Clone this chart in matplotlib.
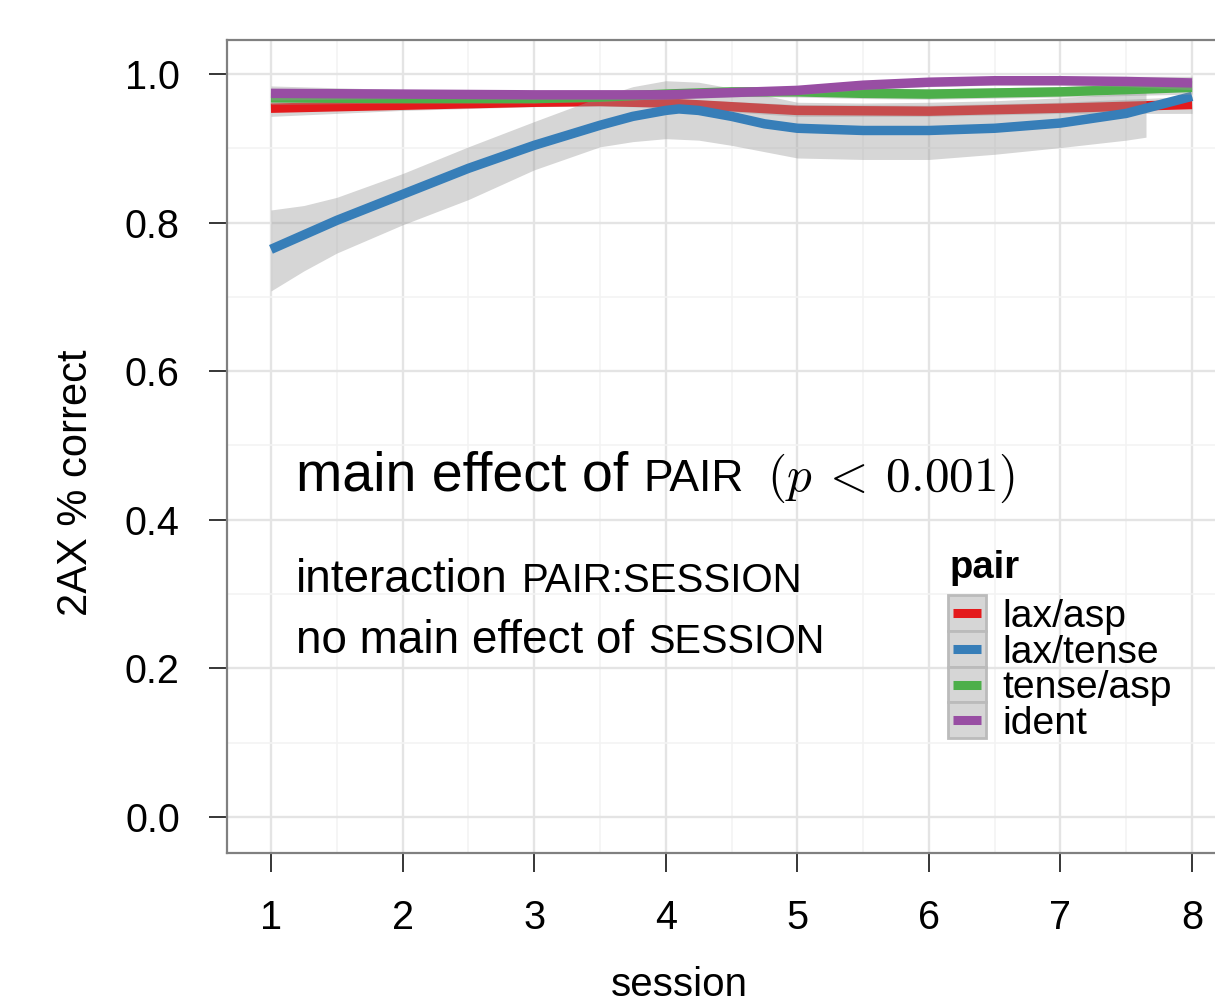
import numpy as np
import matplotlib
matplotlib.use("Agg")
import matplotlib.pyplot as plt
from matplotlib.patches import Rectangle
from matplotlib.lines import Line2D

plt.rcParams["font.family"] = ["Liberation Sans", "DejaVu Sans"]
plt.rcParams["mathtext.fontset"] = "cm"

# === data ===
pairs = ["lax/asp", "lax/tense", "tense/asp", "ident"]
colors = ["#E41A1C", "#377EB8", "#4DAF4A", "#984EA3"]

red_x = [1, 2, 3, 3.5, 4, 4.5, 5, 6, 7, 8]
red_y = [0.954, 0.958, 0.962, 0.963, 0.961, 0.956, 0.951, 0.950, 0.954, 0.959]
red_lo = [0.943, 0.951, 0.956, 0.957, 0.955, 0.949, 0.943, 0.943, 0.947, 0.947]
red_hi = [0.966, 0.965, 0.968, 0.969, 0.967, 0.963, 0.959, 0.958, 0.962, 0.970]

blue_x = [1, 1.5, 2, 2.5, 3, 3.5, 3.75, 4, 4.1, 4.25, 4.5, 4.75, 5, 5.5, 6,
          6.5, 7, 7.5, 8]
blue_y = [0.764, 0.803, 0.838, 0.873, 0.904, 0.931, 0.943, 0.951, 0.953,
          0.951, 0.943, 0.933, 0.927, 0.924, 0.924, 0.927, 0.934, 0.947, 0.970]
blue_band_x = [1, 1.25, 1.5, 2, 2.5, 3, 3.5, 3.75, 4, 4.25, 4.5, 5, 5.5, 6,
               6.5, 7, 7.5, 7.65]
blue_lo = [0.708, 0.735, 0.759, 0.797, 0.831, 0.871, 0.902, 0.909, 0.913,
           0.911, 0.904, 0.887, 0.885, 0.885, 0.892, 0.901, 0.911, 0.915]
blue_hi = [0.817, 0.823, 0.834, 0.866, 0.902, 0.936, 0.969, 0.983, 0.991,
           0.989, 0.981, 0.962, 0.961, 0.962, 0.964, 0.968, 0.974, 0.976]

green_x = [1, 2, 3, 3.5, 4, 4.5, 5, 5.5, 6, 7, 8]
green_y = [0.968, 0.967, 0.967, 0.969, 0.973, 0.976, 0.976, 0.974, 0.973, 0.976, 0.982]
green_lo = [0.959, 0.961, 0.961, 0.963, 0.967, 0.970, 0.969, 0.967, 0.966, 0.969, 0.973]
green_hi = [0.977, 0.973, 0.973, 0.975, 0.979, 0.982, 0.983, 0.981, 0.980, 0.983, 0.991]

purple_x = [1, 2, 3, 4, 4.5, 5, 5.5, 6, 6.5, 7, 7.5, 8]
purple_y = [0.974, 0.973, 0.972, 0.972, 0.975, 0.978, 0.985, 0.989, 0.991, 0.991, 0.990, 0.988]
purple_lo = [0.965, 0.967, 0.966, 0.966, 0.969, 0.972, 0.979, 0.983, 0.985, 0.985, 0.983, 0.979]
purple_hi = [0.984, 0.979, 0.978, 0.978, 0.981, 0.984, 0.991, 0.995, 0.997, 0.997, 0.997, 0.997]

sessions = [1, 2, 3, 4, 5, 6, 7, 8]
yticks = [0.0, 0.2, 0.4, 0.6, 0.8, 1.0]

W, H = 1215, 1002


def fx(x):
    return x / W


def fy(y):
    return 1 - y / H


fig = plt.figure(figsize=(W / 100, H / 100), dpi=100)
ax = fig.add_axes([fx(227), fy(853), fx(1236) - fx(227), fy(40) - fy(853)])
ax.set_xlim(0.666, 8.334)
ax.set_ylim(-0.0485, 1.0458)

# grid
ax.set_xticks(sessions)
ax.set_xticks(np.arange(1.5, 8.5, 1.0), minor=True)
ax.set_yticks(yticks)
ax.set_yticks([0.1, 0.3, 0.5, 0.7, 0.9], minor=True)
ax.grid(True, which="major", color="#E4E4E4", lw=1.7, zorder=0)
ax.grid(True, which="minor", color="#F3F3F3", lw=1.2, zorder=0)
ax.set_axisbelow(True)

# smooth lines with bands, drawn group by group
band = dict(color="#999999", alpha=0.4, lw=0)
groups = [
    (red_x, red_y, red_x, red_lo, red_hi),
    (blue_x, blue_y, blue_band_x, blue_lo, blue_hi),
    (green_x, green_y, green_x, green_lo, green_hi),
    (purple_x, purple_y, purple_x, purple_lo, purple_hi),
]
for i, (x, y, bx, lo, hi) in enumerate(groups):
    ax.fill_between(bx, lo, hi, zorder=2 + 2 * i, **band)
    ax.plot(x, y, color=colors[i], lw=6.8, solid_capstyle="butt",
            solid_joinstyle="round", zorder=3 + 2 * i)

# spines / ticks
for s in ["left", "top", "bottom", "right"]:
    ax.spines[s].set_color("#808080")
    ax.spines[s].set_linewidth(1.6)
ax.tick_params(axis="both", which="major", direction="out", color="black",
               width=1.1, labelsize=28.5)
ax.tick_params(axis="x", length=14, pad=19)
ax.tick_params(axis="y", length=13, pad=21)
ax.tick_params(which="minor", length=0)
ax.set_xticklabels([str(s) for s in sessions])
ax.set_yticklabels([f"{v:.1f}" for v in yticks])

# axis titles
fig.text(fx(679), fy(996), "session", ha="center", va="baseline", fontsize=29)
fig.text(fx(86.7), fy(483), "2AX % correct", rotation=90, rotation_mode="anchor",
         ha="center", va="baseline", fontsize=30)

# annotations
fig.text(fx(296), fy(491), "main effect of", fontsize=40, va="baseline")
fig.text(fx(643), fy(491), "PAIR", fontsize=32, va="baseline")
fig.text(fx(767), fy(491), r"$(p\:<\:0.001)$", fontsize=35.5, va="baseline")
fig.text(fx(296), fy(592), "interaction", fontsize=33, va="baseline")
fig.text(fx(522), fy(592), "PAIR:SESSION", fontsize=29, va="baseline")
fig.text(fx(296), fy(653), "no main effect of", fontsize=33, va="baseline")
fig.text(fx(648), fy(653), "SESSION", fontsize=28.5, va="baseline")

# legend
fig.text(fx(950), fy(578), "pair", fontsize=27.5, fontweight="bold", va="baseline")
key_top, key_h, key_w, key_left = 595, 35.8, 37.7, 948.3
for i, (lab, col) in enumerate(zip(pairs, colors)):
    top = key_top + i * key_h
    fig.add_artist(Rectangle((fx(key_left), fy(top + key_h)), fx(key_w), key_h / H,
                             transform=fig.transFigure, facecolor="#D6D6D6",
                             edgecolor="#BBBBBB", lw=2.0))
    cy = fy(top + key_h / 2)
    fig.add_artist(Line2D([fx(952.7), fx(981)], [cy, cy], transform=fig.transFigure,
                          color=col, lw=6.5, solid_capstyle="butt"))
    fig.text(fx(1002.7), cy, lab, fontsize=28.2, va="center_baseline")

fig.savefig("out.png", dpi=100)
